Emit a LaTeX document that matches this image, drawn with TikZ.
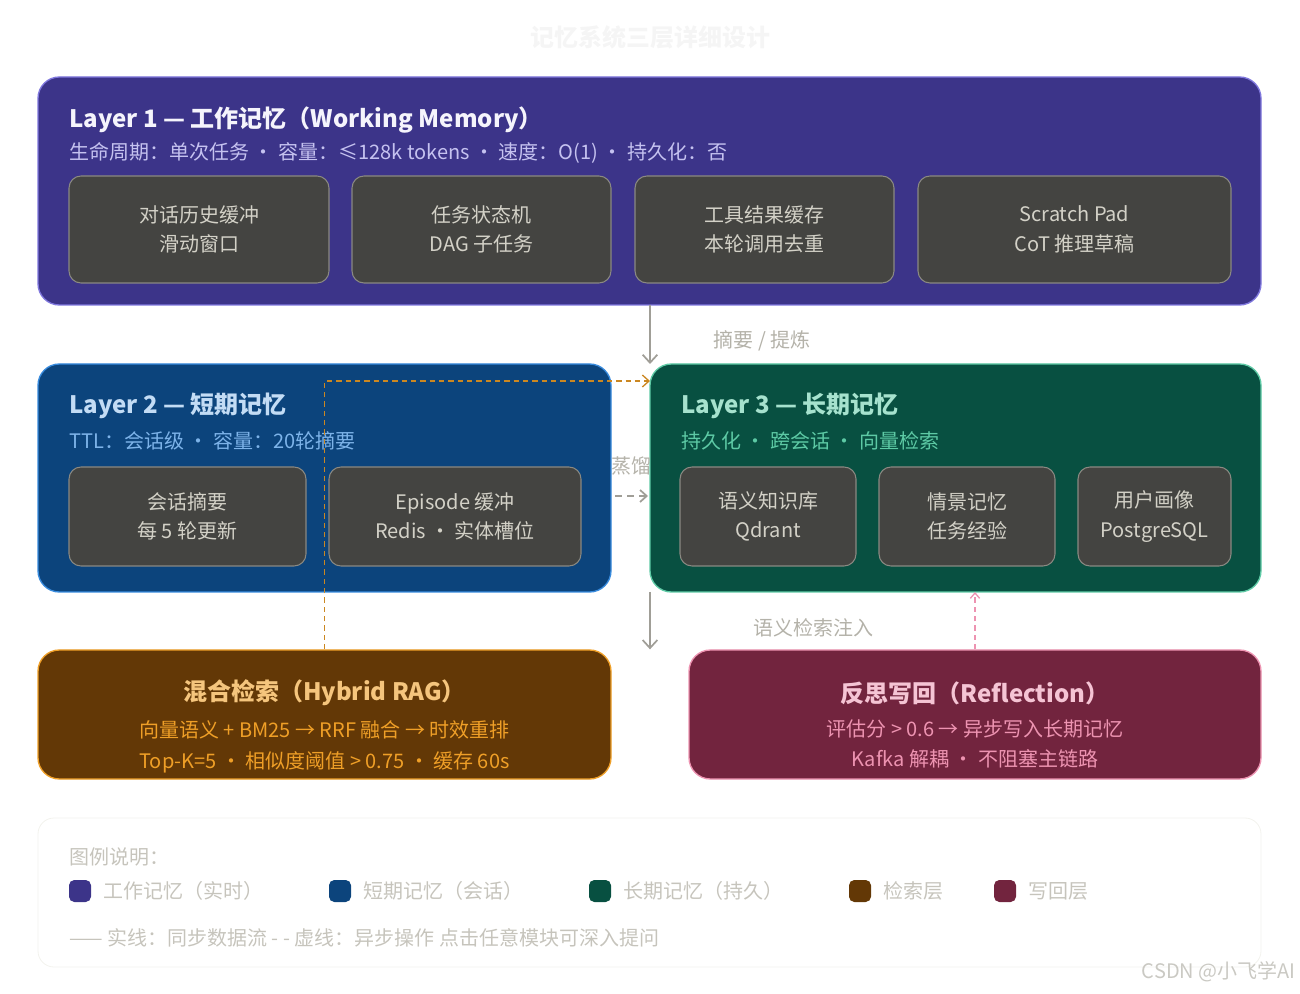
\documentclass[tikz,border=0pt]{standalone}
\usepackage{fontspec}
\setmainfont{Noto Sans CJK SC}
\usetikzlibrary{positioning,arrows.meta}
\definecolor{bgA}{HTML}{3C3489}\definecolor{bdA}{HTML}{7F77DD}
\definecolor{bgB}{HTML}{0C447C}\definecolor{bdB}{HTML}{378ADD}
\definecolor{bgC}{HTML}{085041}\definecolor{bdC}{HTML}{5DCAA5}
\definecolor{bgD}{HTML}{633806}\definecolor{bdD}{HTML}{EF9F27}
\definecolor{bgE}{HTML}{72243E}\definecolor{bdE}{HTML}{ED93B1}
\definecolor{cell}{HTML}{444441}\definecolor{cellbd}{HTML}{8A8982}
\definecolor{celltx}{HTML}{D3D1C7}
\definecolor{flow}{HTML}{A09E97}\definecolor{flowtx}{HTML}{B4B2A9}
\definecolor{legtx}{HTML}{C6C4BC}
\begin{document}
\begin{tikzpicture}[x=0.75pt,y=-0.75pt,
  layer/.style={draw,line width=1pt,rounded corners=16pt,inner sep=0pt},
  cell/.style={draw=cellbd,fill=cell,rounded corners=9pt,line width=0.8pt,inner sep=0pt,
    text=celltx,font=\fontsize{15}{22}\selectfont,align=center},
  ttl/.style={anchor=west,font=\fontsize{18}{22}\selectfont\bfseries,inner sep=0pt},
  sub/.style={anchor=west,font=\fontsize{15}{20}\selectfont,inner sep=0pt},
  flowlbl/.style={text=flowtx,font=\fontsize{15}{20}\selectfont,inner sep=0pt},
  swatch/.style={rounded corners=4pt,minimum size=16.5pt,inner sep=0pt},
  legend/.style={anchor=west,text=legtx,font=\fontsize{15}{20}\selectfont,inner sep=0pt}]
\useasboundingbox (0,0) rectangle (1300,994);
\node[text=white!96!black,font=\fontsize{18}{22}\selectfont\bfseries] (title) at (650,37) {记忆系统三层详细设计};

% Layer 1
\draw[layer,draw=bdA,fill=bgA] (38,77) rectangle (1261,305);
\coordinate (L1s) at (650,305);
\node[ttl,text=white!92!bdA] (t1) at (69,120) {Layer 1 — 工作记忆（Working Memory）};
\node[sub,text=white!55!bdA] (s1) at (69,153) {生命周期：单次任务 · 容量：≤128k tokens · 速度：O(1) · 持久化：否};
\foreach \a/\b/\txt [count=\i] in {69/329/对话历史缓冲\\滑动窗口, 352/611/任务状态机\\DAG 子任务,
    635/894/工具结果缓存\\本轮调用去重, 918/1231/Scratch Pad\\CoT 推理草稿}
  \node[cell,minimum width={(\b-\a)*0.75pt},minimum height=80.25pt] (w\i) at ({(\a+\b)/2},229.5) {\txt};

% Layer 2
\draw[layer,draw=bdB,fill=bgB] (38,364) rectangle (611,592);
\node[ttl,text=white!70!bdB] (t2) at (69,406) {Layer 2 — 短期记忆};
\node[sub,text=white!35!bdB] (s2) at (69,441) {TTL：会话级 · 容量：20轮摘要};
\node[cell,minimum width=177.75pt,minimum height=74.25pt] (st1) at (187.5,516.5) {会话摘要\\每 5 轮更新};
\node[cell,minimum width=189pt,minimum height=74.25pt] (st2) at (455,516.5) {Episode 缓冲\\Redis · 实体槽位};

% Layer 3
\draw[layer,draw=bdC,fill=bgC] (650,364) rectangle (1261,592);
\coordinate (L3n) at (650,364);
\coordinate (L3w) at (648,496);
\coordinate (L3s) at (650,592);
\coordinate (L3r) at (975,592);
\node[ttl,text=white!45!bdC] (t3) at (681,406) {Layer 3 — 长期记忆};
\node[sub,text=bdC] (s3) at (681,441) {持久化 · 跨会话 · 向量检索};
\foreach \a/\b/\txt [count=\i] in {680/856/语义知识库\\Qdrant, 879/1055/情景记忆\\任务经验, 1078/1231/用户画像\\PostgreSQL}
  \node[cell,minimum width={(\b-\a)*0.75pt},minimum height=74.25pt] (lt\i) at ({(\a+\b)/2},516.5) {\txt};

% Hybrid RAG
\node[layer,draw=bdD,fill=bgD,minimum width=429.75pt,minimum height=96.75pt] (rag) at (324.5,714.5) {};
\node[text=white!40!bdD,font=\fontsize{18}{22}\selectfont\bfseries] (ragt) at (324.5,693) {混合检索（Hybrid RAG）};
\node[text=bdD,font=\fontsize{15}{23}\selectfont,align=center,below=4pt of ragt] (ragd) {向量语义 + BM25 → RRF 融合 → 时效重排\\Top-K=5 · 相似度阈值 > 0.75 · 缓存 60s};

% Reflection
\node[layer,draw=bdE,fill=bgE,minimum width=429pt,minimum height=96.75pt] (refl) at (975,714.5) {};
\node[text=white!45!bdE,font=\fontsize{18}{22}\selectfont\bfseries] (reflt) at (975,693) {反思写回（Reflection）};
\node[text=bdE,font=\fontsize{15}{23}\selectfont,align=center,below=4pt of reflt] (refld) {评估分 > 0.6 → 异步写入长期记忆\\Kafka 解耦 · 不阻塞主链路};

% flows
\draw[flow,line width=1.3pt,-{Straight Barb[length=6pt,width=11pt]}] (L1s) -- (L3n);
\node[flowlbl] (f1) at (762,341) {摘要 / 提炼};
\draw[flow,line width=1.3pt,dashed,dash pattern=on 5pt off 4pt,-{Straight Barb[length=5pt,width=9pt]}] (615,496) -- (L3w);
\node[flowlbl] (f2) at (631,466) {蒸馏};
\draw[flow,line width=1.3pt,-{Straight Barb[length=6pt,width=11pt]}] (L3s) -- (rag.north -| L3s);
\node[flowlbl] (f3) at (813,628) {语义检索注入};
\draw[bdE,line width=1pt,dashed,dash pattern=on 4pt off 3pt,-{Straight Barb[length=4pt,width=7pt]}] (refl.north) -- (L3r);
\draw[bdD!85!black,line width=1pt,dashed,dash pattern=on 4pt off 3pt,-{Straight Barb[length=5pt,width=9pt]}]
  (rag.north) -- (324.5,381) -- (650,381);

% legend
\draw[white!94!black!98!yellow,line width=0.6pt,rounded corners=12pt] (38,818) rectangle (1261,967);
\node[legend] (lg) at (69,857) {图例说明：};
\foreach \x/\c/\txt [count=\i] in {80/bgA/工作记忆（实时）, 340/bgB/短期记忆（会话）, 600/bgC/长期记忆（持久）, 860/bgD/检索层, 1005/bgE/写回层}{
  \node[swatch,fill=\c] (sw\i) at (\x,891) {};
  \node[legend,right=9pt of sw\i] (lgt\i) {\txt};
}
\node[legend] (lgl) at (69,938) {—— 实线：同步数据流 - - 虚线：异步操作 点击任意模块可深入提问};
\node[anchor=east,text=flowtx!70!white,font=\fontsize{15}{20}\selectfont,inner sep=0pt] (wm) at (1296,972) {CSDN @小飞学AI};
\end{tikzpicture}
\end{document}
